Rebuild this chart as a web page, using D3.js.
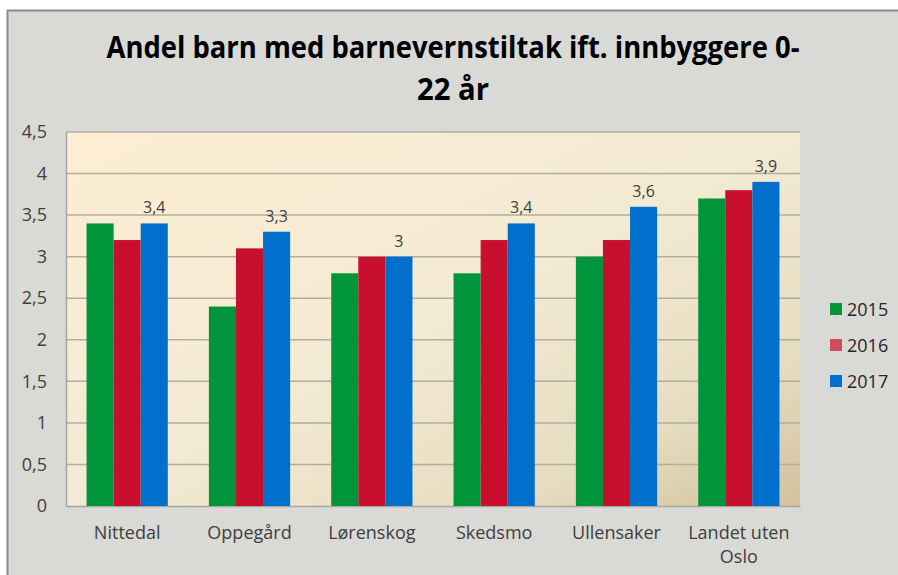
<!DOCTYPE html>
<html>
<head>
<meta charset="utf-8">
<script src="https://cdn.jsdelivr.net/npm/d3@7"></script>
<style>
  body { margin: 0; background: #ffffff; }
  text { font-family: "Open Sans", sans-serif; }
</style>
</head>
<body>
<script>
var categories = ["Nittedal", "Oppegård", "Lørenskog", "Skedsmo", "Ullensaker", "Landet uten Oslo"];
var years = ["2015", "2016", "2017"];
var values2015 = [3.4, 2.4, 2.8, 2.8, 3.0, 3.7];
var values2016 = [3.2, 3.1, 3.0, 3.2, 3.2, 3.8];
var values2017 = [3.4, 3.3, 3.0, 3.4, 3.6, 3.9];
var yTicks = [0, 0.5, 1, 1.5, 2, 2.5, 3, 3.5, 4, 4.5];
var titleLines = ["Andel barn med barnevernstiltak ift. innbyggere 0-", "22 år"];

var svgWidth = 898;
var svgHeight = 575;
var plot = { left: 66, right: 800, top: 132, bottom: 506 };
var colors = ["#00953a", "#c8102e", "#0070cc"];
var legendColors = ["#00953a", "#d24a5f", "#0070cc"];

var series = [values2015, values2016, values2017];

var svg = d3.select("body")
  .append("svg")
  .attr("width", svgWidth)
  .attr("height", svgHeight);

var defs = svg.append("defs");
var grad = defs.append("linearGradient")
  .attr("id", "plotbg")
  .attr("x1", "0").attr("y1", "0")
  .attr("x2", "1").attr("y2", "1");
grad.append("stop").attr("offset", "0").attr("stop-color", "#fdeed4");
grad.append("stop").attr("offset", "0.5").attr("stop-color", "#f3ead3");
grad.append("stop").attr("offset", "0.8").attr("stop-color", "#e6dcc0");
grad.append("stop").attr("offset", "1").attr("stop-color", "#d2c29c");

// outer frame
svg.append("rect")
  .attr("x", 7.5)
  .attr("y", 10.5)
  .attr("width", svgWidth)
  .attr("height", svgHeight)
  .attr("fill", "#d9d9d5")
  .attr("stroke", "#8c8c8c")
  .attr("stroke-width", 2);

// title
svg.selectAll(".title")
  .data(titleLines)
  .enter()
  .append("text")
  .attr("class", "title")
  .attr("x", 453)
  .attr("y", (d, i) => 58 + i * 42)
  .attr("text-anchor", "middle")
  .attr("font-size", 30)
  .attr("font-weight", 700)
  .attr("fill", "#000")
  .attr("textLength", (d, i) => i == 0 ? 693 : 72)
  .attr("lengthAdjust", "spacingAndGlyphs")
  .text(d => d);

var x0 = d3.scaleBand()
  .domain(categories)
  .range([plot.left, plot.right])
  .paddingInner(0.336)
  .paddingOuter(0.168);

var x1 = d3.scaleBand()
  .domain(years)
  .range([0, x0.bandwidth()]);

var y = d3.scaleLinear()
  .domain([0, 4.5])
  .range([plot.bottom, plot.top]);

// plot background
svg.append("rect")
  .attr("x", plot.left)
  .attr("y", plot.top)
  .attr("width", plot.right - plot.left)
  .attr("height", plot.bottom - plot.top)
  .attr("fill", "url(#plotbg)");

// gridlines
svg.append("g")
  .selectAll("line")
  .data(yTicks.slice(1))
  .enter()
  .append("line")
  .attr("x1", plot.left)
  .attr("x2", plot.right)
  .attr("y1", d => y(d))
  .attr("y2", d => y(d))
  .attr("stroke", "#b3ada0")
  .attr("stroke-width", 1.5);

// y axis
var leftAxis = d3.axisLeft(y)
  .tickValues(yTicks)
  .tickSize(0)
  .tickPadding(19)
  .tickFormat(d => String(d).replace(".", ","));

var yAxisG = svg.append("g")
  .attr("transform", `translate(${plot.left}, 0)`)
  .call(leftAxis);
yAxisG.select(".domain").attr("stroke", "#a6a6a6").attr("stroke-width", 1.5);
yAxisG.selectAll("text")
  .attr("font-family", "Open Sans")
  .attr("font-size", 18)
  .attr("fill", "#404040");

// x axis
var bottomAxis = d3.axisBottom(x0).tickSize(0).tickFormat("");
var xAxisG = svg.append("g")
  .attr("transform", `translate(0, ${plot.bottom})`)
  .call(bottomAxis);
xAxisG.select(".domain").attr("stroke", "#a6a6a6").attr("stroke-width", 1.5);

xAxisG.selectAll(".tick")
  .append("text")
  .attr("fill", "#404040")
  .attr("font-size", 18)
  .attr("text-anchor", "middle")
  .each(function(d) {
    var lines = d == "Landet uten Oslo" ? ["Landet uten", "Oslo"] : [d];
    var t = d3.select(this);
    lines.forEach(function(l, i) {
      t.append("tspan").attr("x", 0).attr("y", 33 + i * 24).text(l);
    });
  });

// bars
var groups = svg.append("g")
  .selectAll("g")
  .data(categories)
  .enter()
  .append("g")
  .attr("transform", d => `translate(${x0(d)}, 0)`);

groups.selectAll("rect")
  .data((d, ci) => years.map((yr, si) => ({ year: yr, si: si, value: series[si][ci] })))
  .enter()
  .append("rect")
  .attr("x", d => x1(d.year))
  .attr("y", d => y(d.value))
  .attr("width", x1.bandwidth())
  .attr("height", d => y(0) - y(d.value))
  .attr("fill", d => colors[d.si]);

// data labels on 2017
groups.append("text")
  .attr("x", x1("2017") + x1.bandwidth() / 2)
  .attr("y", (d, ci) => y(values2017[ci]) - 10)
  .attr("text-anchor", "middle")
  .attr("font-size", 16)
  .attr("fill", "#404040")
  .text((d, ci) => String(values2017[ci]).replace(".", ","));

// legend
var legend = svg.append("g")
  .selectAll("g")
  .data(years)
  .enter()
  .append("g")
  .attr("transform", (d, i) => `translate(830, ${309 + i * 36})`);

legend.append("rect")
  .attr("x", 0)
  .attr("y", -6)
  .attr("width", 12)
  .attr("height", 12)
  .attr("fill", (d, i) => legendColors[i]);

legend.append("text")
  .attr("x", 17)
  .attr("y", 6.5)
  .attr("font-size", 18)
  .attr("fill", "#262626")
  .text(d => d);
</script>
</body>
</html>
